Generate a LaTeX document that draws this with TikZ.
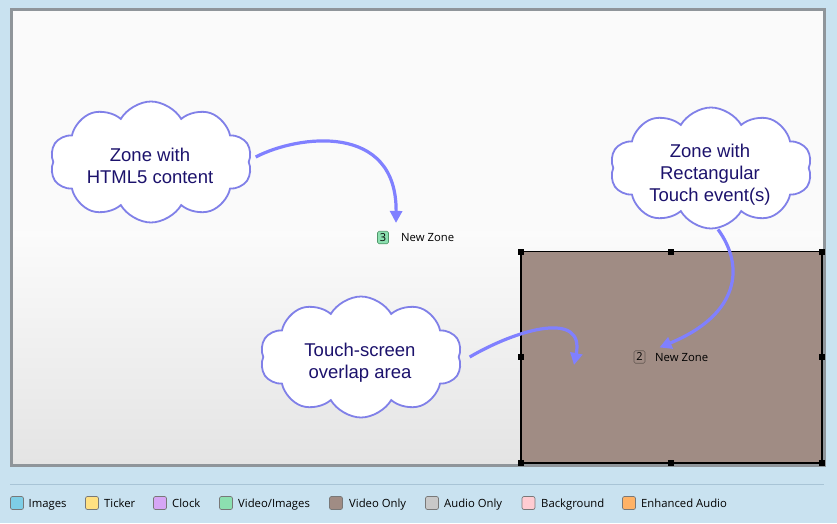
\documentclass[tikz,border=0pt]{standalone}
\usepackage{fontspec}
\setmainfont{Open Sans}
\newfontfamily\cloudfont{Liberation Sans}
\usetikzlibrary{shapes.symbols,arrows.meta}
\definecolor{bgblue}{RGB}{201,226,240}
\definecolor{sepline}{RGB}{168,196,214}
\definecolor{frame}{RGB}{143,149,154}
\definecolor{zonebrown}{RGB}{160,140,132}
\definecolor{zoneedge}{RGB}{100,88,82}
\definecolor{cloudedge}{RGB}{128,128,232}
\definecolor{arrowblue}{RGB}{128,128,255}
\definecolor{cloudtextc}{RGB}{28,18,108}
\definecolor{cImages}{RGB}{126,206,230}
\definecolor{cTicker}{RGB}{255,224,130}
\definecolor{cClock}{RGB}{214,166,245}
\definecolor{cVidImg}{RGB}{140,224,176}
\definecolor{cVidOnly}{RGB}{160,140,132}
\definecolor{cAudio}{RGB}{200,200,200}
\definecolor{cBack}{RGB}{255,204,210}
\definecolor{cEnh}{RGB}{255,178,102}
\definecolor{swedge}{RGB}{120,120,120}
\definecolor{canvastop}{RGB}{250,250,250}
\definecolor{canvasmid}{RGB}{251,251,251}
\definecolor{canvasbot}{RGB}{228,228,228}
\tikzset{
  cloudbox/.style={cloud, cloud puffs=10, cloud puff arc=120, aspect=1.7,
    draw=cloudedge, line width=1.8pt, fill=white, minimum width=202pt,
    minimum height=121pt, inner sep=0pt},
  cloudtext/.style={font=\cloudfont\fontsize{18.5}{22}\selectfont, text=cloudtextc,
    align=center, inner sep=0pt},
  pointer/.style={draw=arrowblue, line width=3.2pt,
    -{Triangle[length=12pt,width=12pt]}},
  handle/.style={fill=black, minimum size=6pt, inner sep=0pt},
  numbox/.style={draw, rounded corners=1.5pt, line width=0.6pt, minimum width=11pt,
    minimum height=12.5pt, inner sep=0pt, font=\fontsize{11}{12}\selectfont},
  zonelabel/.style={anchor=base west, inner sep=0pt, font=\fontsize{11.3}{12}\selectfont},
  swatch/.style={draw=swedge, rounded corners=2pt, line width=0.7pt,
    minimum size=13pt, inner sep=0pt},
  legtext/.style={anchor=base west, inner sep=0pt, font=\fontsize{11.3}{12}\selectfont}
}
\begin{document}
\begin{tikzpicture}[x=1pt,y=-1pt]
\useasboundingbox (0,0) rectangle (837,523);
\fill[bgblue] (0,0) rectangle (837,523);
% canvas
\fill[canvastop] (13,11) rectangle (823,232);
\shade[top color=canvasmid, bottom color=canvasbot] (13,231.5) rectangle (823,464);
\draw[frame, line width=3pt] (11.5,9.5) rectangle (824.5,465.5);
% separator
\draw[sepline, line width=1pt] (10,484.5) -- (824,484.5);
% touch zone
\draw[fill=zonebrown, line width=1.5pt] (521,251.5) rectangle (822,463);
\foreach \hx/\hy in {521/251.5,671/251.5,822/251.5,521/357,822/357,521/463,671/463,822/463}
  \node[handle] at (\hx,\hy) {};
% zone labels
\node[numbox, fill=cVidImg, draw={rgb,255:red,80;green,150;blue,105}] (z3) at (383,237.5) {3};
\node[zonelabel] (n3) at (401,241.5) {New Zone};
\node[numbox, fill=zonebrown, draw=zoneedge] (z2) at (639.5,357) {2};
\node[zonelabel] (n2) at (655,361) {New Zone};
% clouds
\node[cloudbox] (cl1) at (151,162) {};
\node[cloudtext] (t1) at (150,166) {Zone with\\HTML5 content};
\node[cloudbox] (cl2) at (711,168) {};
\node[cloudtext] (t2) at (710,175) {Zone with\\Rectangular\\Touch event(s)};
\node[cloudbox] (cl3) at (361,357) {};
\node[cloudtext] (t3) at (360,362.5) {Touch-screen\\overlap area};
\coordinate (ov) at (574,365);
% arrows
\draw[pointer] ([shift={(6pt,5pt)}]cl1.east) .. controls +(42,-22) and +(1,-101) .. ([shift={(13pt,8pt)}]z3.north);
\draw[pointer] ([shift={(7pt,0pt)}]cl2.south) .. controls +(27,37) and +(80,-33) .. ([shift={(20pt,3pt)}]z2.north);
\draw[pointer] ([xshift=10pt]cl3.east) .. controls +(48,-28) and +(11,-55) .. (ov);
% legend
\foreach \sx/\tx/\col/\lab in {17/28.5/cImages/Images, 92/104/cTicker/Ticker, 160/172/cClock/Clock,
  226/238/cVidImg/Video\slash Images, 336/349/cVidOnly/Video Only, 432/444/cAudio/Audio Only,
  528.5/541/cBack/Background, 629/641/cEnh/Enhanced Audio}{
  \node[swatch, fill=\col] at (\sx,503) {};
  \node[legtext] at (\tx,507.5) {\lab};
}
\end{tikzpicture}
\end{document}
